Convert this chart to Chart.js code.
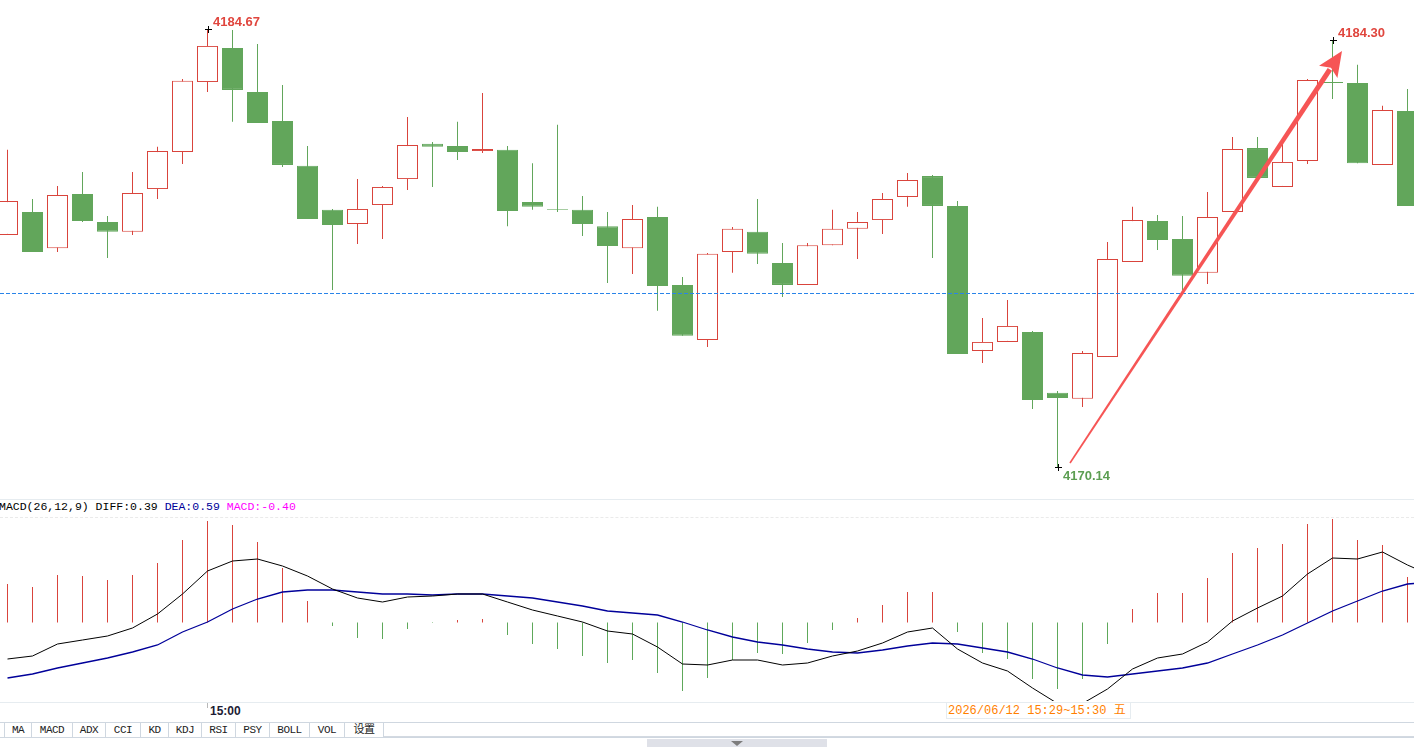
<!DOCTYPE html>
<html>
<head>
<meta charset="utf-8">
<script src="https://cdn.jsdelivr.net/npm/chart.js@4.4.1/dist/chart.umd.min.js"></script>
<style>
html,body{margin:0;padding:0;background:#fff;}
body{width:1414px;height:747px;overflow:hidden;position:relative;font-family:"Liberation Sans",Arial,sans-serif;}
canvas{position:absolute;left:0;display:block;}
#price{top:0;}
#macd{top:517px;}
.ab{position:absolute;}
#sep1{left:0;top:499px;width:1414px;height:1px;background:#e6ecf0;}
#dash1{left:0;top:517px;width:1414px;height:0;border-top:1px dashed #eaeaea;}
#sep2{left:0;top:702px;width:1414px;height:1px;background:#e6ecf0;}
#macdLbl{left:-1px;top:500px;font-family:"Liberation Mono",monospace;font-size:11.5px;line-height:14px;white-space:pre;color:#000;}
#tick{top:703px;width:1px;height:5px;background:#b8b8b8;}
#timeLbl{top:704px;font:bold 12px "Liberation Sans",Arial,sans-serif;color:#1c1c34;line-height:14px;}
#dateBox{left:946px;top:702px;width:183px;height:15px;border:1px solid #e6ecf0;background:#fff;}
#dateTxt{left:948px;top:704px;font-family:"Liberation Mono","Noto Sans CJK SC",monospace;font-size:12px;line-height:14px;color:#ff7f00;white-space:pre;}
#tabTop{left:0;top:722px;width:1414px;height:1px;background:#cfd7e0;}
#tabBot{left:0;top:737px;width:1414px;height:1px;background:#cfd7e0;}
#tabBot2{left:384px;top:736px;width:1030px;height:1px;background:#d3d9e1;}
.tab{position:absolute;top:723px;height:14px;border-right:1px solid #cfd7e0;text-align:center;font-family:"Liberation Mono","Noto Sans CJK SC",monospace;font-size:11px;letter-spacing:-0.5px;line-height:14px;color:#222;}
#toggle{left:647px;top:739px;width:180px;height:8px;background:#dfe1e8;}
#tri{left:731px;top:741px;width:0;height:0;border-left:6px solid transparent;border-right:6px solid transparent;border-top:5px solid #7d7d7d;}
</style>
</head>
<body>
<canvas id="price" width="1414" height="498"></canvas>
<div class="ab" id="sep1"></div>
<div class="ab" id="macdLbl"><span>MACD(26,12,9) DIFF:0.39 </span><span style="color:#00009a">DEA:0.59 </span><span style="color:#ff00ff">MACD:-0.40</span></div>
<div class="ab" id="dash1"></div>
<canvas id="macd" width="1414" height="184"></canvas>
<div class="ab" id="sep2"></div>
<div class="ab" id="tick"></div>
<div class="ab" id="timeLbl"></div>
<div class="ab" id="dateBox"></div>
<div class="ab" id="dateTxt">2026/06/12 15:29~15:30 五</div>
<div class="ab" id="tabTop"></div>
<div class="ab" id="tabBot"></div>
<div class="ab" id="tabBot2"></div>
<div id="tabs"></div>
<div class="ab" id="toggle"></div>
<div class="ab" id="tri"></div>
<script>
// ---------- data ----------
const opens = [4177.84,4178.60,4177.40,4179.20,4178.27,4177.94,4179.36,4180.59,4182.91,4184.04,
4182.58,4181.62,4180.13,4178.67,4178.20,4178.83,4179.69,4180.86,4180.79,4180.62,
4180.66,4178.93,4178.70,4178.67,4178.13,4177.40,4178.43,4176.18,4174.35,4177.27,
4177.94,4176.91,4176.18,4177.50,4178.04,4178.33,4179.10,4179.79,4178.80,4173.99,
4174.29,4174.62,4172.60,4172.40,4173.79,4176.94,4178.30,4177.70,4176.58,4178.60,
4180.72,4179.43,4180.29,4182.91,4182.88,4180.16,4181.95];
const highs = [4180.66,4179.03,4179.46,4179.93,4178.47,4179.93,4180.76,4183.01,4184.67,4184.64,
4184.17,4182.81,4180.79,4178.70,4179.69,4179.46,4181.75,4180.92,4181.59,4182.55,
4180.79,4180.22,4181.49,4179.13,4178.60,4178.83,4178.77,4176.44,4177.24,4178.10,
4179.03,4177.57,4177.57,4178.67,4178.60,4179.23,4179.89,4179.83,4178.96,4175.08,
4175.68,4174.65,4172.66,4173.99,4177.60,4178.77,4178.50,4178.47,4179.26,4181.09,
4181.09,4180.89,4183.01,4184.30,4183.48,4182.12,4182.68];
const lows = [4177.84,4177.27,4177.27,4178.27,4177.07,4177.84,4179.03,4180.19,4182.58,4181.59,
4181.55,4180.09,4178.37,4176.01,4177.54,4177.70,4179.33,4179.43,4180.32,4180.56,
4178.13,4178.67,4178.60,4177.80,4176.24,4176.54,4175.32,4174.49,4174.12,4176.58,
4176.87,4175.78,4176.18,4177.50,4177.04,4177.87,4178.77,4177.07,4173.89,4173.59,
4174.29,4172.06,4170.14,4172.13,4173.79,4176.94,4177.34,4176.01,4176.21,4178.60,
4179.73,4179.43,4180.19,4182.35,4180.22,4180.16,4178.80];
const closes = [4178.96,4177.27,4179.16,4178.30,4177.94,4179.23,4180.62,4182.95,4184.11,4182.65,
4181.55,4180.16,4178.37,4178.17,4178.70,4179.43,4180.82,4180.76,4180.59,4180.69,
4178.63,4178.77,4178.67,4178.20,4177.47,4178.37,4176.14,4174.49,4177.21,4178.04,
4177.21,4176.18,4177.50,4178.04,4178.27,4179.03,4179.66,4178.80,4173.89,4174.29,
4174.82,4172.36,4172.43,4173.92,4177.04,4178.33,4177.67,4176.48,4178.43,4180.69,
4179.73,4180.26,4182.98,4182.88,4180.22,4181.98,4178.80];
const prevClose = 4175.91;
const macdHist = [0.77,0.71,0.95,0.93,0.85,0.95,1.19,1.65,2.03,1.95,
1.61,1.09,0.43,-0.07,-0.31,-0.33,-0.13,-0.01,0.05,0.07,
-0.25,-0.43,-0.53,-0.67,-0.81,-0.75,-1.01,-1.37,-1.11,-0.75,
-0.61,-0.63,-0.41,-0.15,0.09,0.35,0.61,0.61,-0.19,-0.61,
-0.73,-1.13,-1.33,-1.13,-0.43,0.27,0.59,0.59,0.89,1.39,
1.49,1.57,1.97,2.07,1.65,1.55,0.91];
const diffLine = [-0.73,-0.67,-0.43,-0.35,-0.27,-0.11,0.17,0.57,1.03,1.23,
1.27,1.13,0.93,0.67,0.49,0.41,0.51,0.53,0.57,0.57,
0.41,0.25,0.13,0.01,-0.17,-0.23,-0.49,-0.83,-0.85,-0.75,
-0.75,-0.85,-0.81,-0.67,-0.57,-0.41,-0.19,-0.11,-0.53,-0.81,
-0.97,-1.31,-1.62,-1.62,-1.33,-0.93,-0.71,-0.63,-0.39,0.03,
0.29,0.53,0.97,1.29,1.27,1.41,1.15,0.93];
const deaLine = [-1.11,-1.03,-0.91,-0.81,-0.71,-0.59,-0.45,-0.19,0.01,0.27,
0.47,0.61,0.65,0.65,0.61,0.57,0.57,0.55,0.57,0.57,
0.53,0.49,0.41,0.33,0.23,0.19,0.15,0.01,-0.15,-0.29,
-0.39,-0.45,-0.53,-0.59,-0.61,-0.55,-0.47,-0.41,-0.43,-0.51,
-0.59,-0.73,-0.91,-1.05,-1.09,-1.03,-0.97,-0.91,-0.81,-0.63,
-0.45,-0.25,-0.01,0.23,0.43,0.63,0.77,0.81];
const markIdx = [8, 53, 42];
const markType = ['high', 'high', 'low'];
const arrowFrom = [42.5, 4170.27];
const arrowTo = [53.38, 4183.94];
const tickIdx = [8];
const tickText = ['15:00'];
const tabNames = ['', 'MA', 'MACD', 'ADX', 'CCI', 'KD', 'KDJ', 'RSI', 'PSY', 'BOLL', 'VOL', '设置'];
const tabEdges = [0, 5, 32, 73, 106, 141, 169, 202, 236, 270, 310, 345, 384];

// ---------- styles ----------
const RED = '#d9443c', GREEN = '#62a65b';
const X_MIN = -0.3, X_MAX = 56.26;
const up = i => closes[i] >= opens[i];

const xScale = {type:'linear', display:false, offset:false, min:X_MIN, max:X_MAX, bounds:'data'};
const common = {
  responsive:false, maintainAspectRatio:false, animation:false, devicePixelRatio:1,
  events:[], layout:{padding:0},
  plugins:{legend:{display:false}, tooltip:{enabled:false}}
};

const annot = {
  id:'annot',
  afterDatasetsDraw(chart){
    const {ctx, chartArea, scales:{x, y}} = chart;
    ctx.save();
    // previous close dashed line
    const yy = Math.round(y.getPixelForValue(prevClose)) + 0.5;
    ctx.strokeStyle = '#2a84e8'; ctx.lineWidth = 1; ctx.setLineDash([4,2]);
    ctx.beginPath(); ctx.moveTo(chartArea.left, yy); ctx.lineTo(chartArea.right, yy); ctx.stroke();
    ctx.setLineDash([]);
    // extreme marks
    ctx.font = 'bold 13px "Liberation Sans", Arial, sans-serif';
    ctx.textBaseline = 'middle';
    markIdx.forEach((i, k) => {
      const isHigh = markType[k] === 'high';
      const v = isHigh ? highs[i] : lows[i];
      const px = Math.round(x.getPixelForValue(i)) + 0.5;
      const py = Math.round(y.getPixelForValue(v)) + 0.5;
      ctx.strokeStyle = '#000'; ctx.lineWidth = 1;
      ctx.beginPath();
      ctx.moveTo(px - 3.5, py); ctx.lineTo(px + 3.5, py);
      ctx.moveTo(px, py - 3.5); ctx.lineTo(px, py + 3.5);
      ctx.stroke();
      ctx.fillStyle = isHigh ? '#e0463e' : '#5c9e52';
      ctx.fillText(v.toFixed(2), px + 4.5, isHigh ? py - 7.5 : py + 8.5);
    });
    // arrow
    const ax = x.getPixelForValue(arrowFrom[0]), ay = y.getPixelForValue(arrowFrom[1]);
    const bx = x.getPixelForValue(arrowTo[0]), by = y.getPixelForValue(arrowTo[1]);
    const len = Math.hypot(bx - ax, by - ay);
    const ux = (bx - ax) / len, uy = (by - ay) / len;
    const nx = -uy, ny = ux;
    const headLen = 25, headHalf = 11;
    const mx = bx - ux * (headLen - 3), my = by - uy * (headLen - 3);
    const hx = bx - ux * headLen, hy = by - uy * headLen;
    ctx.fillStyle = '#f65555';
    ctx.beginPath();
    ctx.moveTo(ax + nx * 0.8, ay + ny * 0.8);
    ctx.lineTo(mx + nx * 2.6, my + ny * 2.6);
    ctx.lineTo(mx - nx * 2.6, my - ny * 2.6);
    ctx.lineTo(ax - nx * 0.8, ay - ny * 0.8);
    ctx.closePath(); ctx.fill();
    ctx.beginPath();
    ctx.moveTo(bx, by);
    ctx.lineTo(hx + nx * headHalf, hy + ny * headHalf);
    ctx.lineTo(bx - ux * (headLen - 5), by - uy * (headLen - 5));
    ctx.lineTo(hx - nx * headHalf, hy - ny * headHalf);
    ctx.closePath(); ctx.fill();
    ctx.restore();
  }
};

new Chart(document.getElementById('price'), {
  type:'bar',
  data:{datasets:[
    {
      label:'body', order:1, grouped:false, barThickness:21, inflateAmount:0,
      data: opens.map((o, i) => ({x:i, y:[o, closes[i]]})),
      backgroundColor: c => up(c.dataIndex) ? '#ffffff' : GREEN,
      borderColor: c => up(c.dataIndex) ? RED : GREEN,
      borderWidth:1, borderSkipped:false
    },
    {
      label:'wick', order:2, grouped:false, barThickness:1, inflateAmount:0,
      data: lows.map((l, i) => ({x:i, y:[l, highs[i]]})),
      backgroundColor: c => up(c.dataIndex) ? RED : GREEN,
      borderWidth:0
    }
  ]},
  options:Object.assign({}, common, {
    scales:{
      x:xScale,
      y:{type:'linear', display:false, min:4169.111, max:4185.632, beginAtZero:false, bounds:'data'}
    }
  }),
  plugins:[annot]
});

const macdChart = new Chart(document.getElementById('macd'), {
  type:'bar',
  data:{datasets:[
    {
      type:'line', label:'DIFF', order:1,
      data: diffLine.map((v, i) => ({x:i, y:v})),
      borderColor:'#000000', borderWidth:1, pointRadius:0, tension:0, fill:false
    },
    {
      type:'line', label:'DEA', order:2,
      data: deaLine.map((v, i) => ({x:i, y:v})),
      borderColor:'#00009a', borderWidth:1.3, pointRadius:0, tension:0, fill:false
    },
    {
      type:'bar', label:'MACD', order:3, grouped:false, barThickness:1, inflateAmount:0,
      data: macdHist.map((v, i) => ({x:i, y:v})),
      backgroundColor: c => macdHist[c.dataIndex] >= 0 ? RED : '#5ea85a',
      borderWidth:0
    }
  ]},
  options:Object.assign({}, common, {
    scales:{
      x:xScale,
      y:{type:'linear', display:false, min:-1.57, max:2.11, beginAtZero:false, bounds:'data'}
    }
  })
});

// time tick label placed through the shared x scale
const tx = macdChart.scales.x.getPixelForValue(tickIdx[0]);
document.getElementById('tick').style.left = Math.floor(tx) + 'px';
const tl = document.getElementById('timeLbl');
tl.textContent = tickText[0];
tl.style.left = (Math.floor(tx) + 3) + 'px';

// tabs
const tabs = document.getElementById('tabs');
for (let k = 0; k < tabNames.length; k++) {
  const d = document.createElement('div');
  d.className = 'tab';
  d.style.left = tabEdges[k] + 'px';
  d.style.width = (tabEdges[k + 1] - tabEdges[k] - 1) + 'px';
  d.textContent = tabNames[k];
  tabs.appendChild(d);
}
</script>
</body>
</html>
